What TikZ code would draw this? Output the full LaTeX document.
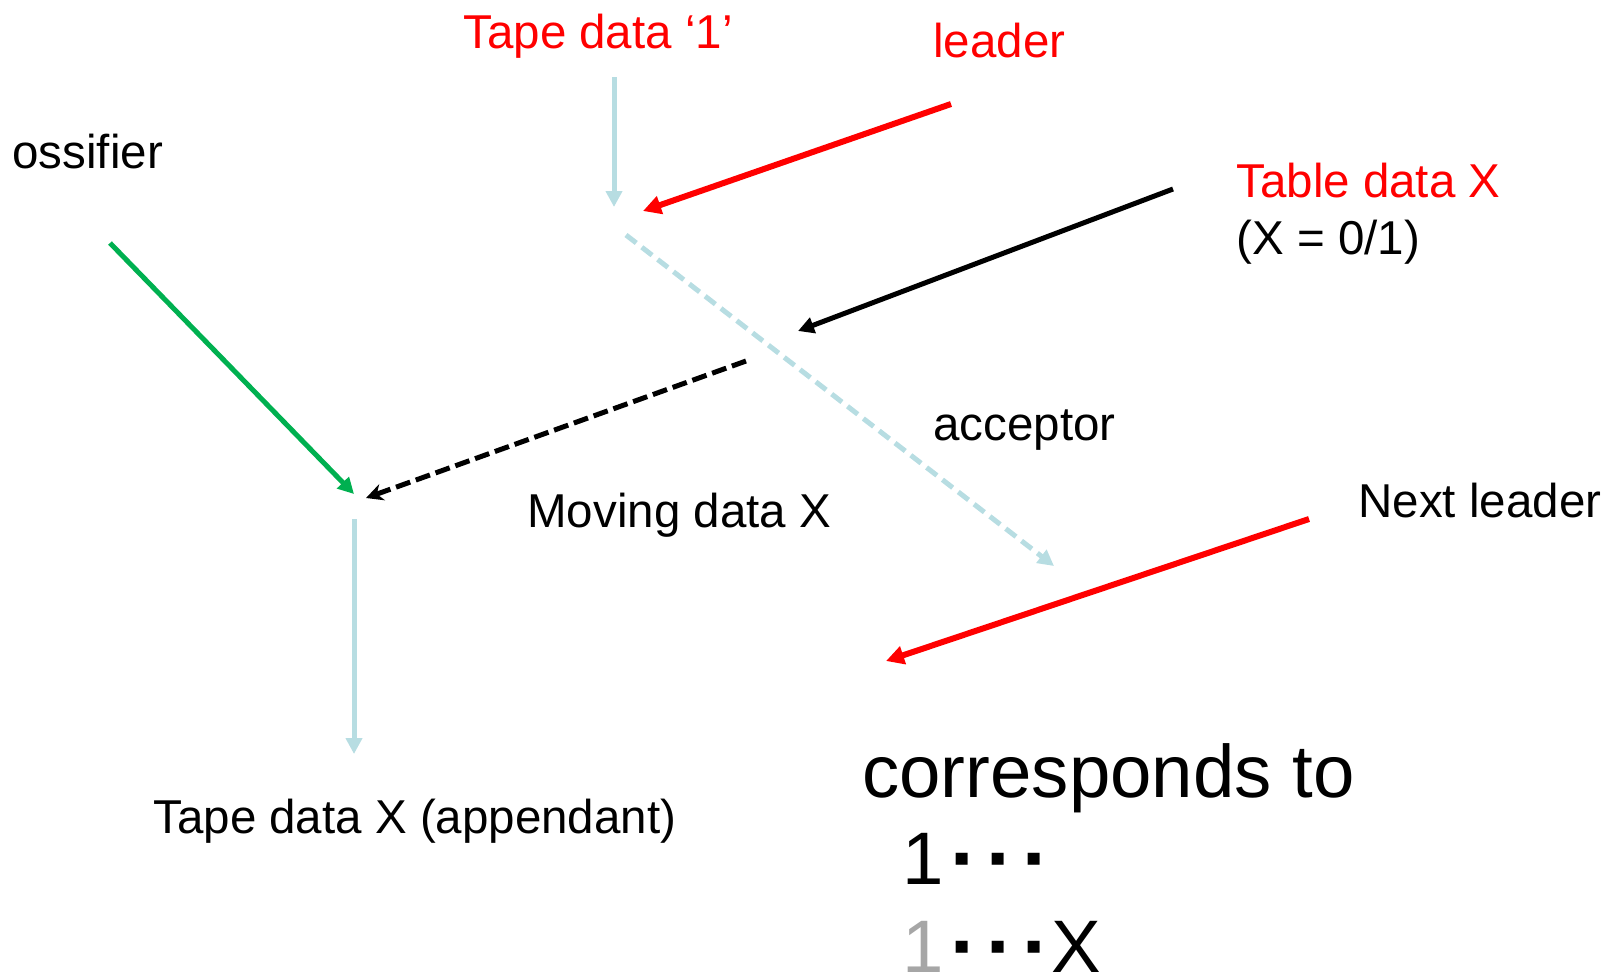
\documentclass[tikz,border=0pt]{standalone}
\usepackage{fontspec}
\setmainfont{Liberation Sans}
\newfontfamily\dotfont{DejaVu Sans}
\usetikzlibrary{arrows.meta}
\usetikzlibrary{positioning}
\definecolor{paleblue}{RGB}{183,221,226}
\definecolor{leadred}{RGB}{255,0,0}
\definecolor{ossgreen}{RGB}{0,176,80}
\definecolor{fadegray}{RGB}{166,166,166}
% one square dot of the tape sequence
\newcommand{\tapedot}{\makebox[18pt]{\raisebox{9.5pt}{\dotfont\fontsize{12}{12}\selectfont ▪}}}

\begin{document}
\begin{tikzpicture}[x=0.5pt,y=-0.5pt]
\tikzstyle{txt node}=[inner sep=0,anchor=base west,font=\fontsize{23.75}{28}\selectfont]
\tikzstyle{red node}=[txt node,text=leadred]
\tikzstyle{big node}=[inner sep=0,anchor=base west,font=\fontsize{37.2}{44}\selectfont]
\tikzset{
  tape/.style   = {draw=paleblue,line width=2.5pt,-{Triangle[length=8pt,width=8pt]}},
  tapedash/.style = {tape,dash pattern=on 6.5pt off 3.5pt},
  lead/.style   = {draw=leadred,line width=3pt,-{Triangle[length=9pt,width=9pt]}},
  table/.style  = {draw=black,line width=2.5pt,-{Triangle[length=8pt,width=8pt]}},
  moving/.style = {draw=black,line width=2.5pt,dash pattern=on 7.5pt off 3pt,-{Stealth[length=8.5pt,width=8.5pt]}},
  oss/.style    = {draw=ossgreen,line width=2.5pt,-{Triangle[length=8pt,width=8pt]}}
}

\useasboundingbox (0,0) rectangle (1620,976);

    \node[red node]   (tape1)   at (463,48)   {Tape data ‘1’};
    \node[red node]   (leader)  at (933,57)   {leader};
    \node[txt node]   (oss)     at (12,168)   {ossifier};
    \node[red node]   (tablex)  at (1236,197) {Table data X};
    \node[txt node]   (xval)    at (1236,254) {(X = 0/1)};
    \node[txt node]   (acc)     at (933,440)  {acceptor};
    \node[txt node]   (moving)  at (527,527)  {Moving data X};
    \node[txt node]   (nextl)   at (1358,517) {Next leader};
    \node[txt node]   (tapex)   at (153,833)  {Tape data X (appendant)};
    %%%%%%%%%%%%%%%%%%%%%%%%%%%%%%%%%%
    \node[big node]   (corr)    at (862,797)  {corresponds to};
    \node[big node]   (seqa)    at (902,884)  {1\tapedot\tapedot\tapedot};
    \node[big node]   (seqb)    at (902,972)  {{\color{fadegray}1}\tapedot\tapedot\tapedot X};

    \coordinate (t1a) at (614,77);   \coordinate (t1b) at (614,207);
    \coordinate (lda) at (951,104);  \coordinate (ldb) at (643,211);
    \coordinate (tba) at (1173,189); \coordinate (tbb) at (798,331);
    \coordinate (aca) at (626,235);  \coordinate (acb) at (1054,566);
    \coordinate (mva) at (746,361);  \coordinate (mvb) at (366,498);
    \coordinate (osa) at (110,243);  \coordinate (osb) at (354,494);
    \coordinate (txa) at (354,519);  \coordinate (txb) at (354,754);
    \coordinate (nla) at (1309,519); \coordinate (nlb) at (886,661);

    \path
        (t1a) edge[tape] (t1b)
        (lda) edge[lead] (ldb)
        (tba) edge[table] (tbb)
        (aca) edge[tapedash] (acb)
        (mva) edge[moving] (mvb)
        (osa) edge[oss] (osb)
        (txa) edge[tape] (txb)
        (nla) edge[lead] (nlb)
;
\end{tikzpicture}
\end{document}
